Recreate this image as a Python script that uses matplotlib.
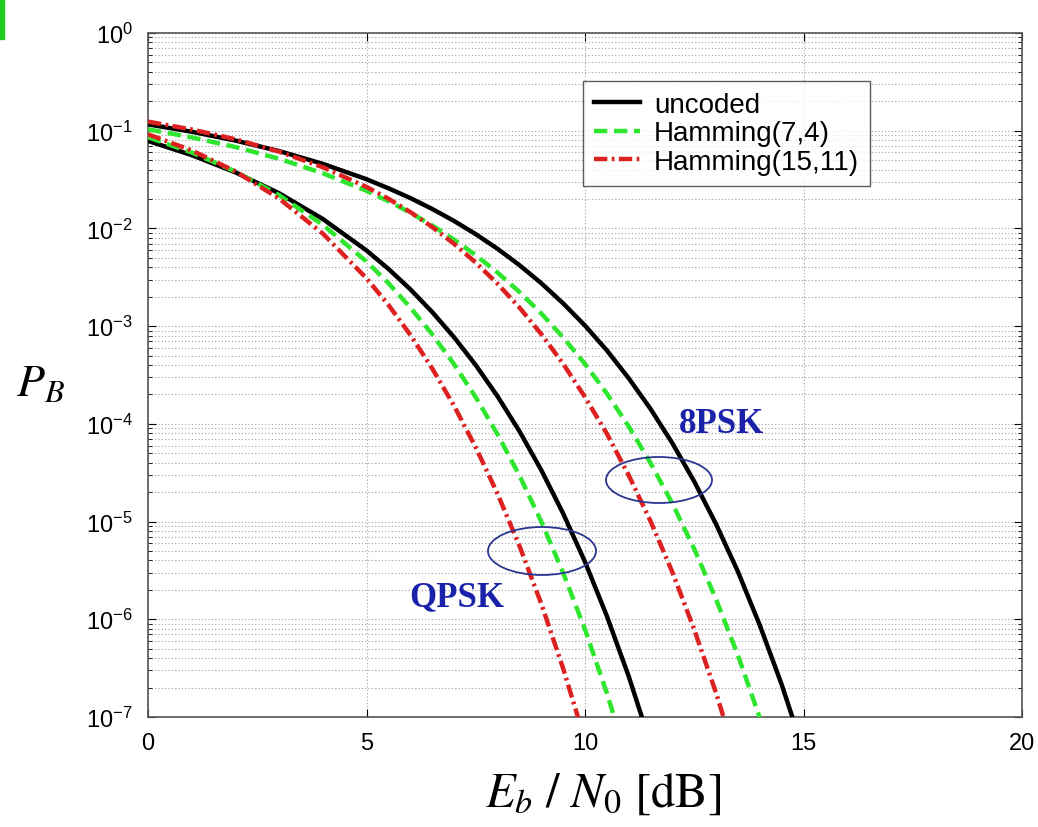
import matplotlib
matplotlib.use("Agg")
import matplotlib.pyplot as plt
from matplotlib.patches import Ellipse, Rectangle
from matplotlib.lines import Line2D
from matplotlib.ticker import LogLocator, NullFormatter, FixedLocator

# Eb/N0 grid (dB)
ebn0 = [0, 1, 2, 3, 4, 5, 5.5, 6, 6.5, 7, 7.5, 8, 8.5, 9, 9.5, 10,
        10.5, 11, 11.5, 12, 12.5, 13, 13.5, 14, 14.5, 15]

# QPSK
qpsk_uncoded = [0.0786, 0.0563, 0.0375, 0.0229, 0.0125, 5.95e-3, 3.86e-3, 2.39e-3,
                1.40e-3, 7.73e-4, 3.99e-4, 1.91e-4, 8.4e-5, 3.36e-5, 1.21e-5, 3.87e-6,
                1.08e-6, 2.61e-7, 5.3e-8, 9.0e-9]
qpsk_h74 = [0.0858, 0.0599, 0.0383, 0.0219, 0.0109, 4.58e-3, 2.756e-3, 1.556e-3,
            8.29e-4, 4.1e-4, 1.869e-4, 7.8e-5, 2.955e-5, 1.0e-5, 2.99e-6, 7.86e-7,
            1.76e-7, 3.32e-8]
qpsk_h1511 = [0.0919, 0.0629, 0.0384, 0.0202, 8.86e-3, 3.09e-3, 1.653e-3, 8.18e-4,
              3.71e-4, 1.54e-4, 5.74e-5, 1.92e-5, 5.64e-6, 1.44e-6, 3.14e-7, 5.77e-8]

# 8PSK
psk8_uncoded = [0.1162, 0.0976, 0.0793, 0.0619, 0.0458, 0.0319, 0.02577, 0.0205,
                0.01585, 0.01195, 8.74e-3, 6.18e-3, 4.21e-3, 2.75e-3, 1.711e-3, 1.013e-3,
                5.65e-4, 2.93e-4, 1.422e-4, 6.33e-5, 2.57e-5, 9.4e-6, 3.07e-6, 8.7e-7,
                2.15e-7, 4.5e-8]
psk8_h74 = [0.1033, 0.0855, 0.0681, 0.0516, 0.0367, 0.02425, 0.01899, 0.0145,
            0.01074, 7.7e-3, 5.325e-3, 3.53e-3, 2.236e-3, 1.347e-3, 7.67e-4, 4.1e-4,
            2.044e-4, 9.41e-5, 3.97e-5, 1.53e-5, 5.24e-6, 1.6e-6, 4.27e-7, 9.8e-8,
            1.9e-8]
psk8_h1511 = [0.1239, 0.103, 0.0818, 0.0611, 0.0423, 0.02658, 0.02016, 0.01474,
              0.01037, 6.97e-3, 4.47e-3, 2.71e-3, 1.55e-3, 8.28e-4, 4.116e-4, 1.88e-4,
              7.94e-5, 2.98e-5, 1.008e-5, 3.03e-6, 7.84e-7, 1.76e-7, 3.3e-8]

legend_labels = ["uncoded", "Hamming(7,4)", "Hamming(15,11)"]
x_ticks = [0, 5, 10, 15, 20]

W, H = 1038, 828
fig = plt.figure(figsize=(W / 100, H / 100), dpi=100)
ax = fig.add_axes([148 / W, 1 - 718 / H, 874 / W, 684 / H])

c_black = "#000000"
c_green = "#2ee62e"
c_red = "#dd2020"
dash_green = (3, 1.5)
dash_red = (3, 1, 0.6, 1)


def xs(vals):
    return ebn0[:len(vals)]


lw = 3.2
for unc, h74, h1511 in [(qpsk_uncoded, qpsk_h74, qpsk_h1511),
                        (psk8_uncoded, psk8_h74, psk8_h1511)]:
    ax.plot(xs(unc), unc, color=c_black, lw=lw, solid_capstyle="butt", zorder=3)
    ax.plot(xs(h74), h74, color=c_green, lw=lw, dashes=dash_green, zorder=3)
    ax.plot(xs(h1511), h1511, color=c_red, lw=lw, dashes=dash_red, zorder=3)

ax.set_yscale("log")
ax.set_xlim(0, 20)
ax.set_ylim(1e-7, 1)
ax.xaxis.set_major_locator(FixedLocator(x_ticks))
ax.yaxis.set_major_locator(LogLocator(base=10, numticks=20))
ax.yaxis.set_minor_locator(LogLocator(base=10, subs=range(2, 10), numticks=100))
ax.yaxis.set_minor_formatter(NullFormatter())

ax.grid(True, which="major", axis="both", color="#a0a0a0", ls=(0, (1, 2)), lw=0.8)
ax.grid(True, which="minor", axis="y", color="#a0a0a0", ls=(0, (1, 2)), lw=0.8)

ax.tick_params(which="both", direction="in", top=True, right=True)
ax.tick_params(which="major", length=6, labelsize=17, pad=11)
ax.tick_params(which="minor", length=3)
for lab in ax.get_xticklabels() + ax.get_yticklabels():
    lab.set_fontfamily("Liberation Sans")
for sp in ax.spines.values():
    sp.set_color("#555555")
    sp.set_linewidth(1.2)

# legend
handles = [Line2D([], [], color=c_black, lw=lw),
           Line2D([], [], color=c_green, lw=lw, dashes=dash_green),
           Line2D([], [], color=c_red, lw=lw, dashes=dash_red)]
leg = ax.legend(handles, legend_labels, loc="upper left",
                bbox_to_anchor=((583 - 148) / 874, 1 - (82 - 34) / 684),
                prop={"family": "Liberation Sans", "size": 20},
                frameon=True, fancybox=False, edgecolor="#333333",
                handlelength=1.65, handletextpad=0.5, borderpad=0.4,
                labelspacing=0.08, borderaxespad=0)
leg.get_frame().set_linewidth(1.0)
leg.set_zorder(6)

# annotations
blue = "#1a22aa"
ax.text((679 - 148) / 874, 1 - (425 - 34) / 684, "8PSK", transform=ax.transAxes,
        color=blue, fontsize=25, fontweight="bold", family="Liberation Serif",
        ha="left", va="center")
ax.text((409 - 148) / 874, 1 - (598 - 34) / 684, "QPSK", transform=ax.transAxes,
        color=blue, fontsize=25, fontweight="bold", family="Liberation Serif",
        ha="left", va="center")
ax.add_patch(Ellipse(((659 - 148) / 874, 1 - (481 - 34) / 684), 106 / 874, 46 / 684,
                     transform=ax.transAxes, fill=False, ec="#2a3590", lw=1.3, zorder=5))
ax.add_patch(Ellipse(((542 - 148) / 874, 1 - (552 - 34) / 684), 108 / 874, 48 / 684,
                     transform=ax.transAxes, fill=False, ec="#2a3590", lw=1.3, zorder=5))

# axis labels
fig.text(40 / W, 1 - 383 / H, r"$P_B$", fontsize=33, ha="center", va="center",
         math_fontfamily="stix")
fig.text(603 / W, 1 - 793 / H, r"$E_b\ /\ N_0\ \mathrm{[dB]}$", fontsize=35,
         ha="center", va="center", math_fontfamily="stix")

# small green mark at the top-left corner
fig.patches.append(Rectangle((0, 1 - 40 / H), 4 / W, 40 / H, transform=fig.transFigure,
                             color="#22cc22", figure=fig))

fig.savefig("out.png", dpi=100)
